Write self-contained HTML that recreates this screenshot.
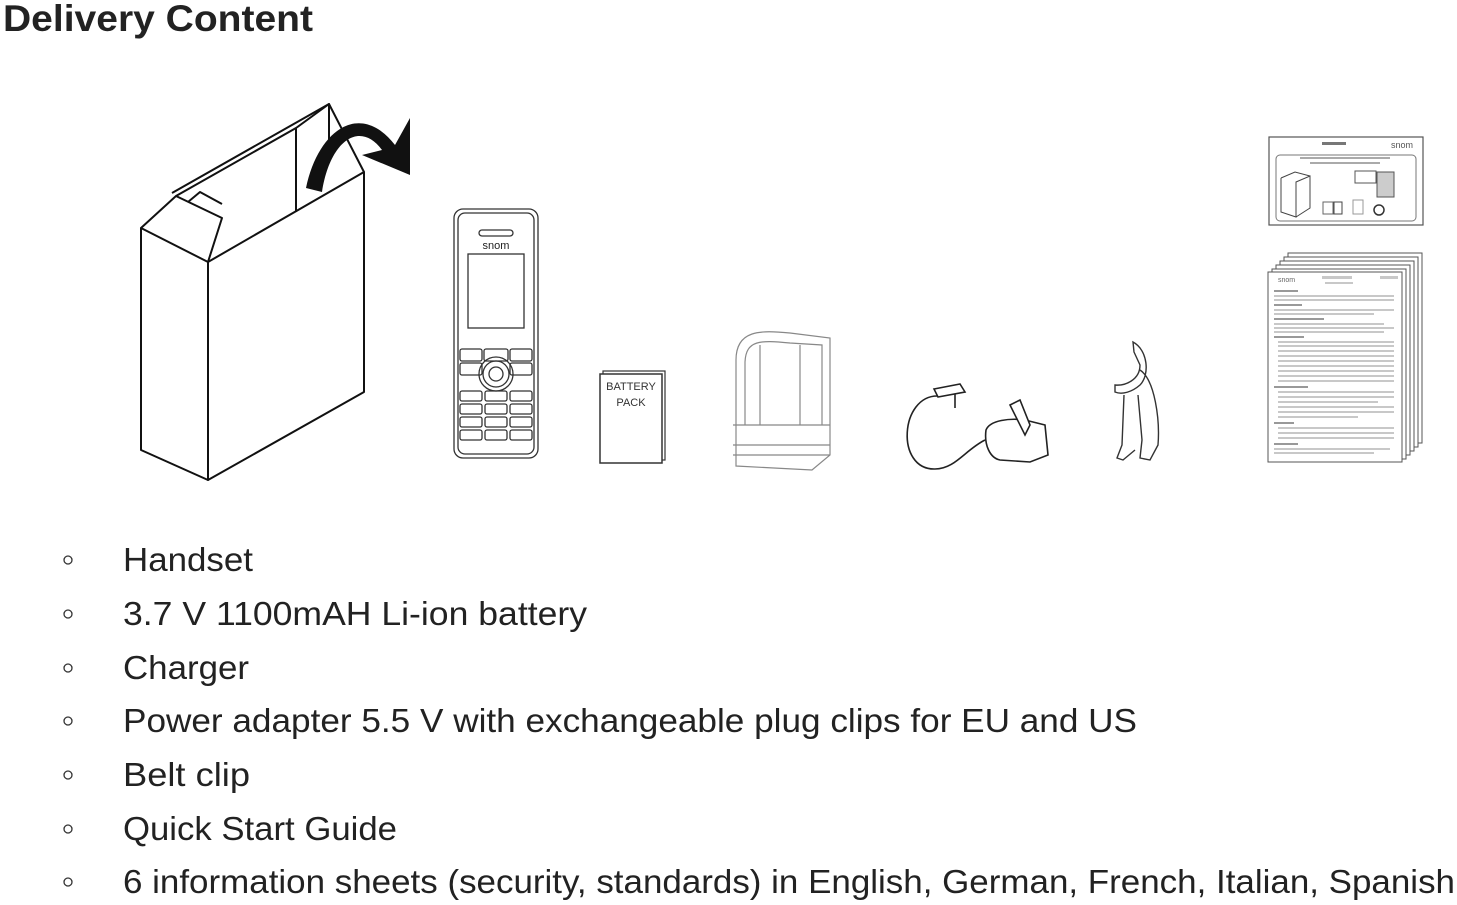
<!DOCTYPE html>
<html><head><meta charset="utf-8"><style>
html,body{margin:0;padding:0;background:#fff;width:1457px;height:905px;overflow:hidden}
svg{display:block}
</style></head><body>
<svg width="1457" height="905" viewBox="0 0 1457 905" xmlns="http://www.w3.org/2000/svg">
<g font-family="Liberation Sans, sans-serif">
<text x="3" y="31" font-size="37" font-weight="bold" fill="#222" textLength="310" lengthAdjust="spacingAndGlyphs">Delivery Content</text>

<!-- Box -->
<g fill="none" stroke="#111" stroke-width="2" stroke-linejoin="round">
<path d="M141,228 L141,450 L208,480 L208,262 Z" fill="#fff"/>
<path d="M208,262 L364,172 L364,392 L208,480 Z" fill="#fff"/>
<path d="M141,228 L176,196 L222,218 L208,262"/>
<path d="M172,193 L329,104 L329,150"/>
<path d="M176,196 L296,128 L296,212"/>
<path d="M296,128 L329,104 L364,172"/>
<path d="M188,202 L200,192 L222,204"/>
</g>
<path d="M306,188 C318,130 360,100 395,145 L410,118 L410,175 L362,155 L382,150 C360,120 330,140 322,192 Z" fill="#111"/>

<!-- Handset -->
<g fill="none" stroke="#333" stroke-width="1.3">
<rect x="454" y="209" width="84" height="249" rx="9"/>
<rect x="458" y="213" width="76" height="241" rx="7"/>
<rect x="479" y="230" width="34" height="6" rx="3"/>
<rect x="468" y="254" width="56" height="74"/>
<rect x="460" y="349" width="22" height="12" rx="2"/><rect x="484" y="349" width="24" height="12" rx="2"/><rect x="510" y="349" width="22" height="12" rx="2"/>
<rect x="460" y="363" width="22" height="12" rx="2"/><rect x="510" y="363" width="22" height="12" rx="2"/>
<circle cx="496" cy="374" r="17"/><circle cx="496" cy="374" r="13"/><circle cx="496" cy="374" r="7"/>
<rect x="460" y="391" width="22" height="10" rx="2"/><rect x="485" y="391" width="22" height="10" rx="2"/><rect x="510" y="391" width="22" height="10" rx="2"/>
<rect x="460" y="404" width="22" height="10" rx="2"/><rect x="485" y="404" width="22" height="10" rx="2"/><rect x="510" y="404" width="22" height="10" rx="2"/>
<rect x="460" y="417" width="22" height="10" rx="2"/><rect x="485" y="417" width="22" height="10" rx="2"/><rect x="510" y="417" width="22" height="10" rx="2"/>
<rect x="460" y="430" width="22" height="10" rx="2"/><rect x="485" y="430" width="22" height="10" rx="2"/><rect x="510" y="430" width="22" height="10" rx="2"/>
</g>
<text x="496" y="249" font-size="11" text-anchor="middle" fill="#222">snom</text>

<!-- Battery -->
<rect x="603" y="371" width="62" height="89" fill="none" stroke="#333" stroke-width="1.2"/>
<rect x="600" y="374" width="62" height="89" fill="#fff" stroke="#333" stroke-width="1.5"/>
<text x="631" y="390" font-size="11" text-anchor="middle" fill="#333">BATTERY</text>
<text x="631" y="406" font-size="11" text-anchor="middle" fill="#333">PACK</text>

<!-- Charger -->
<g fill="none" stroke="#888" stroke-width="1.2">
<path d="M736,425 L736,360 C736,330 760,330 790,333 L830,338 L830,455 L812,470 L736,466 Z"/>
<path d="M745,425 L745,362 C746,340 760,340 790,343 L822,345 L822,425"/>
<path d="M733,425 L830,425 M733,455 L830,455 M733,445 L830,445"/>
<path d="M760,345 L760,425 M800,345 L800,425"/>
</g>

<!-- Adapter -->
<g fill="none" stroke="#222" stroke-width="1.6">
<path d="M938,396 C900,395 895,470 935,469 C955,469 965,450 985,440"/>
<path d="M934,389 L960,384 L965,392 L938,397 Z"/>
<path d="M955,394 L955,408"/>
<path d="M986,430 C990,420 1010,418 1025,420 L1045,425 L1048,455 L1030,462 L1000,460 C990,458 984,445 986,430 Z" fill="#fff"/>
<path d="M1010,405 L1020,400 L1030,425 L1025,435 Z" fill="#fff"/>
</g>

<!-- Belt clip -->
<g fill="none" stroke="#333" stroke-width="1.4">
<path d="M1133,342 C1148,350 1150,375 1140,385 C1132,392 1122,395 1115,392 L1115,385 C1125,386 1140,380 1140,365 L1134,352 Z"/>
<path d="M1140,370 C1155,380 1160,420 1158,445 L1150,460 L1140,458 L1142,440 L1138,395"/>
<path d="M1124,395 L1122,445 L1117,458 L1123,460 L1135,450"/>
</g>

<!-- Quick start guide -->
<rect x="1269" y="137" width="154" height="88" fill="#fff" stroke="#555" stroke-width="1.2"/>
<rect x="1276" y="155" width="140" height="66" rx="4" fill="none" stroke="#777" stroke-width="1"/>
<text x="1413" y="148" font-size="9" text-anchor="end" fill="#555">snom</text>
<rect x="1322" y="142" width="24" height="3" fill="#777"/>
<rect x="1300" y="157" width="90" height="2" fill="#aaa"/><rect x="1310" y="162" width="70" height="2" fill="#aaa"/>
<path d="M1281,178 L1281,212 L1296,217 L1296,182 L1310,176 L1310,208 L1296,217 M1281,178 L1295,172 L1310,176" fill="none" stroke="#444" stroke-width="1"/>
<rect x="1355" y="171" width="21" height="12" fill="none" stroke="#555"/>
<rect x="1377" y="172" width="17" height="25" fill="#ccc" stroke="#555"/>
<rect x="1323" y="202" width="10" height="12" fill="none" stroke="#666"/><rect x="1334" y="202" width="8" height="12" fill="none" stroke="#444"/>
<rect x="1353" y="200" width="10" height="14" fill="none" stroke="#999"/>
<circle cx="1379" cy="210" r="5" fill="none" stroke="#333" stroke-width="1.5"/>

<!-- Info sheets -->
<g fill="#fff" stroke="#555" stroke-width="1">
<rect x="1288" y="253" width="134" height="190"/>
<rect x="1284" y="257" width="134" height="190"/>
<rect x="1280" y="261" width="134" height="190"/>
<rect x="1276" y="265" width="134" height="190"/>
<rect x="1272" y="269" width="134" height="190"/>
<rect x="1268" y="272" width="134" height="190"/>
</g>
<text x="1278" y="282" font-size="7" fill="#666">snom</text>
<g fill="#c8c8c8">
<rect x="1322" y="276" width="30" height="3"/><rect x="1325" y="282" width="28" height="2"/><rect x="1380" y="276" width="18" height="3"/>
<rect x="1274" y="290" width="24" height="2" fill="#999"/>
<rect x="1274" y="295" width="120" height="2"/><rect x="1274" y="299" width="120" height="2"/>
<rect x="1274" y="304" width="28" height="2" fill="#999"/>
<rect x="1274" y="309" width="120" height="2"/><rect x="1274" y="313" width="100" height="2"/>
<rect x="1274" y="318" width="50" height="2" fill="#999"/>
<rect x="1274" y="323" width="110" height="2"/><rect x="1274" y="327" width="120" height="2"/><rect x="1274" y="331" width="110" height="2"/>
<rect x="1274" y="336" width="30" height="2" fill="#999"/>
<rect x="1278" y="341" width="116" height="2"/><rect x="1278" y="345" width="116" height="2"/><rect x="1278" y="350" width="116" height="2"/>
<rect x="1278" y="355" width="116" height="2"/><rect x="1278" y="360" width="116" height="2"/><rect x="1278" y="365" width="116" height="2"/>
<rect x="1278" y="370" width="116" height="2"/><rect x="1278" y="375" width="116" height="2"/><rect x="1278" y="380" width="116" height="2"/>
<rect x="1274" y="386" width="34" height="2" fill="#999"/>
<rect x="1278" y="391" width="116" height="2"/><rect x="1278" y="396" width="116" height="2"/><rect x="1278" y="401" width="100" height="2"/>
<rect x="1278" y="406" width="116" height="2"/><rect x="1278" y="411" width="116" height="2"/><rect x="1278" y="416" width="80" height="2"/>
<rect x="1274" y="422" width="20" height="2" fill="#999"/>
<rect x="1278" y="427" width="116" height="2"/><rect x="1278" y="432" width="116" height="2"/><rect x="1278" y="437" width="116" height="2"/>
<rect x="1274" y="443" width="24" height="2" fill="#999"/>
<rect x="1274" y="448" width="116" height="2"/><rect x="1274" y="452" width="100" height="2"/>
</g>

<!-- List -->
<g fill="none" stroke="#333" stroke-width="1.3">
<circle cx="68" cy="560" r="4"/><circle cx="68" cy="614" r="4"/><circle cx="68" cy="668" r="4"/>
<circle cx="68" cy="721" r="4"/><circle cx="68" cy="775" r="4"/><circle cx="68" cy="829" r="4"/><circle cx="68" cy="882" r="4"/>
</g>
<g font-size="33" fill="#222">
<text x="123" y="571" textLength="130" lengthAdjust="spacingAndGlyphs">Handset</text>
<text x="123" y="625" textLength="464" lengthAdjust="spacingAndGlyphs">3.7 V 1100mAH Li-ion battery</text>
<text x="123" y="679" textLength="126" lengthAdjust="spacingAndGlyphs">Charger</text>
<text x="123" y="732" textLength="1014" lengthAdjust="spacingAndGlyphs">Power adapter 5.5 V with exchangeable plug clips for EU and US</text>
<text x="123" y="786" textLength="127" lengthAdjust="spacingAndGlyphs">Belt clip</text>
<text x="123" y="840" textLength="274" lengthAdjust="spacingAndGlyphs">Quick Start Guide</text>
<text x="123" y="893" textLength="1332" lengthAdjust="spacingAndGlyphs">6 information sheets (security, standards) in English, German, French, Italian, Spanish</text>
</g>
</g>
</svg>
</body></html>
